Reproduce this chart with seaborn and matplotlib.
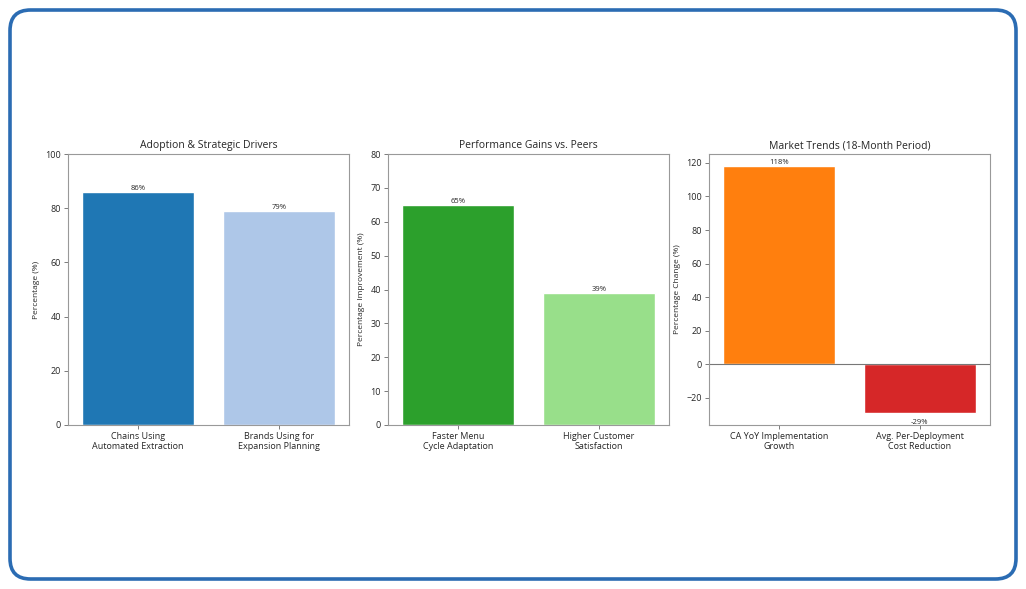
import matplotlib
matplotlib.use("Agg")
import matplotlib.pyplot as plt
import pandas as pd
import seaborn as sns
from matplotlib.patches import FancyBboxPatch

# chart data
titles = ["Adoption & Strategic Drivers", "Performance Gains vs. Peers", "Market Trends (18-Month Period)"]
ylabels = ["Percentage (%)", "Percentage Improvement (%)", "Percentage Change (%)"]
cats1 = ["Chains Using\nAutomated Extraction", "Brands Using for\nExpansion Planning"]
vals1 = [86, 79]
cats2 = ["Faster Menu\nCycle Adaptation", "Higher Customer\nSatisfaction"]
vals2 = [65, 39]
cats3 = ["CA YoY Implementation\nGrowth", "Avg. Per-Deployment\nCost Reduction"]
vals3 = [118, -29]
colors1 = ["#1f77b4", "#aec7e8"]
colors2 = ["#2ca02c", "#98df8a"]
colors3 = ["#ff7f0e", "#d62728"]
ylims = [(0, 100), (0, 80), None]


def main():
    sns.set_style("white")
    plt.rcParams["font.family"] = ["Open Sans", "DejaVu Sans"]

    fig = plt.figure(figsize=(10.26, 5.89), dpi=100)

    # rounded frame around the whole picture
    frame = FancyBboxPatch((10 / 1026, 10 / 589), 1006 / 1026, 569 / 589,
                           boxstyle="round,pad=0,rounding_size=0.02",
                           transform=fig.transFigure, fill=False,
                           edgecolor="#2b6cb3", linewidth=2.6,
                           mutation_aspect=1026 / 589)
    fig.patches.append(frame)

    lefts = [68, 388, 709]
    groups = [(cats1, vals1, colors1), (cats2, vals2, colors2), (cats3, vals3, colors3)]

    for i, (cats, vals, cols) in enumerate(groups):
        ax = fig.add_axes([lefts[i] / 1026, 1 - 425 / 589, 281 / 1026, 271 / 589])
        df = pd.DataFrame({"cat": cats, "val": vals})
        sns.barplot(data=df, x="cat", y="val", hue="cat", palette=cols,
                    legend=False, width=0.8, saturation=1, ax=ax)
        ax.set_xlim(-0.5, 1.5)
        if ylims[i] is not None:
            ax.set_ylim(*ylims[i])
        else:
            lo, hi = min(vals), max(vals)
            pad = (hi - lo) * 0.05
            ax.set_ylim(lo - pad, hi + pad)
            ax.axhline(0, color="#777777", linewidth=0.8)
        ax.set_title(titles[i], fontsize=7.5, pad=4)
        ax.set_ylabel(ylabels[i], fontsize=6)
        ax.set_xlabel("")
        ax.tick_params(axis="both", labelsize=6.5, length=3, width=0.6,
                       color="#666666", pad=2, left=True, bottom=True)
        for s in ax.spines.values():
            s.set_color("#999999")
            s.set_linewidth(0.8)

        for bar, v in zip(ax.patches, vals):
            x = bar.get_x() + bar.get_width() / 2
            if v >= 0:
                ax.text(x, v, f"{v}%", ha="center", va="bottom", fontsize=5.5)
            else:
                ax.text(x, v - 3.5, f"{v}%", ha="center", va="top", fontsize=5.5)

    plt.savefig("out.png", dpi=100)


main()
